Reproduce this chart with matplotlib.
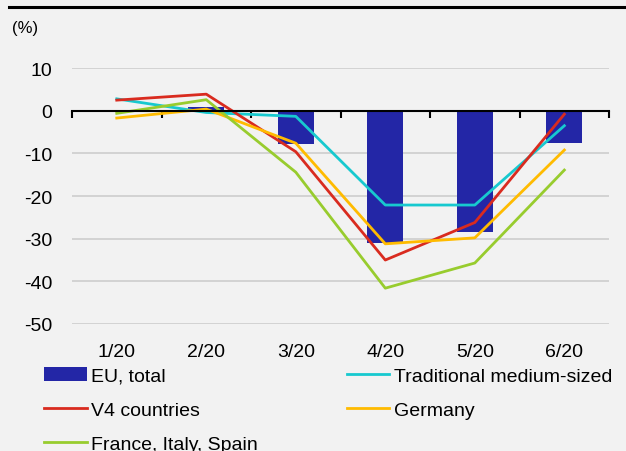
import matplotlib
matplotlib.use("Agg")
import matplotlib.pyplot as plt
from matplotlib.lines import Line2D
import numpy as np

plt.rcParams['font.family'] = ['Liberation Sans', 'DejaVu Sans']

months = ["1/20", "2/20", "3/20", "4/20", "5/20", "6/20"]
eu_total = [0.2, 1.0, -7.8, -31.0, -28.5, -7.6]
traditional = [2.8, -0.4, -1.3, -22.1, -22.1, -3.5]
v4 = [2.5, 3.9, -9.6, -35.0, -26.2, -0.8]
germany = [-1.7, 0.4, -7.6, -31.2, -29.8, -9.2]
fr_it_es = [-0.6, 2.6, -14.4, -41.6, -35.7, -13.9]
yticks = [10, 0, -10, -20, -30, -40, -50]

bg = "#f2f2f2"
c_bar = "#2326a6"
c_cyan = "#17c9cf"
c_red = "#d92b1f"
c_yellow = "#ffbb00"
c_green = "#98cc2e"

fig = plt.figure(figsize=(6.26, 4.52), dpi=100, facecolor=bg)
ax = fig.add_axes([0.115, 0.281, 0.858, 0.566], facecolor=bg)

x = np.arange(len(months))
bars = ax.bar(x, eu_total, width=0.4, color=c_bar, zorder=2, label="EU, total")
lw = 2.0
l_cyan, = ax.plot(x, traditional, color=c_cyan, lw=lw, zorder=3, label="Traditional medium-sized")
l_red, = ax.plot(x, v4, color=c_red, lw=lw, zorder=3, label="V4 countries")
l_yel, = ax.plot(x, germany, color=c_yellow, lw=lw, zorder=3, label="Germany")
l_grn, = ax.plot(x, fr_it_es, color=c_green, lw=lw, zorder=3, label="France, Italy, Spain")

ax.set_xlim(-0.5, len(months) - 0.5)
ax.set_ylim(-50, 10)
ax.set_yticks(yticks)
ax.set_yticklabels([str(v) for v in yticks])
ax.yaxis.grid(True, color="#d0d0d0", lw=1.3, zorder=0)
ax.tick_params(axis="y", length=0, labelsize=14, pad=14)

for side in ("left", "right", "top"):
    ax.spines[side].set_visible(False)
ax.spines["bottom"].set_position(("data", 0))
ax.spines["bottom"].set_color("black")
ax.spines["bottom"].set_linewidth(1.5)
ax.spines["bottom"].set_zorder(4)
ax.set_xticks(np.arange(-0.5, len(months), 1.0))
ax.tick_params(axis="x", direction="out", length=5, width=1.5, labelbottom=False)

sec = ax.secondary_xaxis("bottom")
sec.set_xticks(x)
sec.set_xticklabels(months)
sec.tick_params(axis="x", length=0, labelsize=14, pad=14)
sec.spines["bottom"].set_visible(False)

fig.text(0.019, 0.936, "(%)", fontsize=12, ha="left", va="center")
fig.add_artist(Line2D([0.014, 1.0], [0.983, 0.983], color="black", lw=2.2,
                      transform=fig.transFigure))

handles = [bars, l_red, l_grn, l_cyan, l_yel]
labels = [h.get_label() for h in handles]
fig.legend(handles, labels, ncol=2, loc="upper left",
           bbox_to_anchor=(0.070, 0.186), frameon=False, fontsize=14,
           handlelength=2.2, handletextpad=0.25, columnspacing=4.55,
           labelspacing=0.85, borderaxespad=0, borderpad=0)

fig.savefig("out.png", dpi=100, facecolor=bg)
